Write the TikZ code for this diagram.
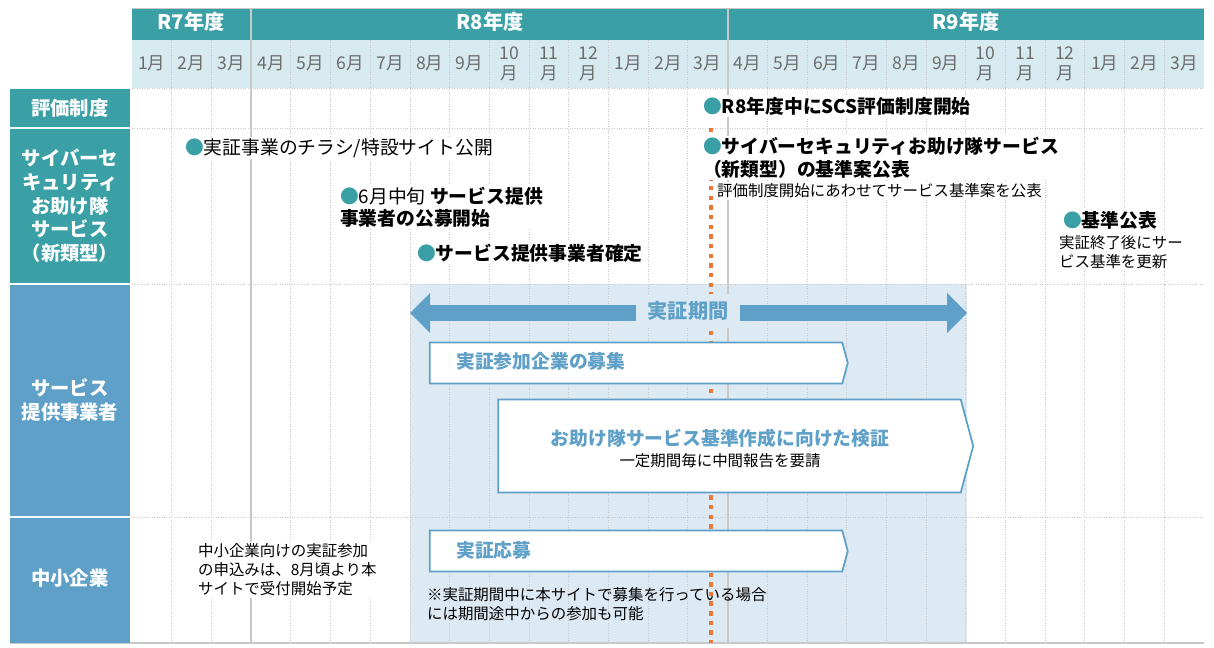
\documentclass[tikz,border=0pt]{standalone}
\usepackage{fontspec}
\setmainfont{Noto Sans CJK JP}
\usetikzlibrary{shapes.arrows,shapes.symbols}
\definecolor{hdteal}{HTML}{3AA0A6}
\definecolor{hdblue}{HTML}{5FA0C8}
\definecolor{monthbg}{HTML}{D6EAEF}
\definecolor{periodbg}{HTML}{DDEAF3}
\definecolor{dotorange}{HTML}{E8773A}
\definecolor{gridgray}{HTML}{C8C8C8}
\newcommand{\mk}{{\color{hdteal}●}}
\tikzset{
  yearbox/.style={fill=hdteal,draw=none},
  sidebox/.style={text=white,font=\bfseries\fontsize{11}{13.5}\selectfont,align=center},
  evt/.style={anchor=west,fill=white,inner sep=1pt,align=left,font=\bfseries\fontsize{10.7}{12.8}\selectfont},
  note/.style={anchor=west,inner sep=1pt,align=left,font=\fontsize{8.8}{10.8}\selectfont},
  phase/.style={draw=hdblue,line width=1pt,fill=white,signal,signal to=east,signal pointer angle=150,inner sep=0pt,outer sep=0pt},
  phasetxt/.style={text=hdblue,font=\bfseries\fontsize{10.7}{12.5}\selectfont}
}
\begin{document}
\begin{tikzpicture}[x=0.02cm,y=-0.02cm]
				\useasboundingbox (0,0) rectangle (1214,648);
				% header
				\fill[monthbg] (132,40) rectangle (1204,88);
				\fill[yearbox] (132,8) rectangle (250,40);
				\fill[yearbox] (252,8) rectangle (727,40);
				\fill[yearbox] (729,8) rectangle (1204,40);
				\node[text=white,font=\bfseries\fontsize{11.5}{13}\selectfont] (r7) at (191,22) {R7年度};
				\node[text=white,font=\bfseries\fontsize{11.5}{13}\selectfont] (r8) at (490,22) {R8年度};
				\node[text=white,font=\bfseries\fontsize{11.5}{13}\selectfont] (r9) at (966,22) {R9年度};
				% period background
				\fill[periodbg] (410,284) rectangle (967,643);
				% grid
				\foreach \i in {1,...,26}
					\draw[gridgray,densely dotted] ({132+39.7*\i},40) -- ({132+39.7*\i},643);
				\draw[gridgray,line width=1pt] (251,8) -- (251,643);
				\draw[gridgray,line width=1pt] (728,8) -- (728,643);
				\foreach \y in {88,128,284,517}
					\draw[gridgray,densely dotted] (132,\y) -- (1204,\y);
				\draw[gridgray,line width=1pt] (10,643) -- (1204,643);
				\draw[gridgray] (132,8) -- (1204,8);
				\foreach \m [count=\i from 0] in {1,2,3,4,5,6,7,8,9,10,11,12,1,2,3,4,5,6,7,8,9,10,11,12,1,2,3}{
					\ifnum\m>9
						\node[text=gray!85!black,font=\fontsize{10}{11.5}\selectfont,align=center] (m\i) at ({151.85+39.7*\i},64) {\m\\月};
					\else
						\node[text=gray!85!black,font=\fontsize{10}{11.5}\selectfont] (m\i) at ({151.85+39.7*\i},63) {\m 月};
					\fi
				}
				% left column
				\fill[hdteal] (10,89) rectangle (130,127);
				\fill[hdteal] (10,129) rectangle (130,283);
				\fill[hdblue] (10,285) rectangle (130,516);
				\fill[hdblue] (10,518) rectangle (130,643);
				\node[sidebox] (s1) at (70,108) {評価制度};
				\node[sidebox] (s2) at (70,206) {サイバーセ\\キュリティ\\お助け隊\\サービス\\（新類型）};
				\node[sidebox] (s3) at (70,400) {サービス\\提供事業者};
				\node[sidebox] (s4) at (70,578) {中小企業};
				% orange milestone line
				\draw[dotorange,line width=2pt,dash pattern=on 2.5pt off 3pt] (711,128) -- (711,643);
				% period arrow
				\node[double arrow,fill=hdblue,minimum height=557*0.02cm,minimum width=40*0.02cm,
					double arrow head extend=5pt,inner sep=3pt,outer sep=0pt,double arrow head indent=0pt] (per) at (688.5,313) {};
				\node[fill=periodbg,text=hdblue,font=\bfseries\fontsize{11.5}{13}\selectfont,inner sep=4pt,minimum width=104*0.02cm] (perl) at (688,311) {実証期間};
				% phases
				\node[phase,minimum width=418*0.02cm,minimum height=41*0.02cm] (p1) at (636,363) {};
				\node[phasetxt,anchor=west] (p1t) at (450,361) {実証参加企業の募集};
				\node[phase,minimum width=475*0.02cm,minimum height=93*0.02cm] (p2) at (729.5,446) {};
				\node[phasetxt] (p2t) at (720,438) {お助け隊サービス基準作成に向けた検証};
				\node[font=\fontsize{8.8}{10}\selectfont] (p2n) at (720,461) {一定期間毎に中間報告を要請};
				\node[phase,minimum width=418*0.02cm,minimum height=41*0.02cm] (p3) at (636,551) {};
				\node[phasetxt,anchor=west] (p3t) at (450,550) {実証応募};
				% events
				\node[evt] (e1) at (701,106) {\mk R8年度中にSCS評価制度開始};
				\node[evt] (e2) at (701,158) {\mk サイバーセキュリティお助け隊サービス\\（新類型）の基準案公表};
				\node[note,fill=white] (e2n) at (715,191) {評価制度開始にあわせてサービス基準案を公表};
				\node[evt,font=\fontsize{10.7}{12.8}\selectfont] (e3) at (183,148) {\mk 実証事業のチラシ/特設サイト公開};
				\node[evt] (e4) at (338,207) {\mk {\mdseries 6月中旬} サービス提供\\事業者の公募開始};
				\node[evt] (e5) at (415,253) {\mk サービス提供事業者確定};
				\node[evt] (e6) at (1061,220) {\mk 基準公表};
				\node[note,fill=white] (e6n) at (1057,252) {実証終了後にサー\\ビス基準を更新};
				\node[note,fill=white] (sme) at (196,570) {中小企業向けの実証参加\\の申込みは、8月頃より本\\サイトで受付開始予定};
				\node[note] (pn) at (425,604) {※実証期間中に本サイトで募集を行っている場合\\には期間途中からの参加も可能};
			\end{tikzpicture}
\end{document}
